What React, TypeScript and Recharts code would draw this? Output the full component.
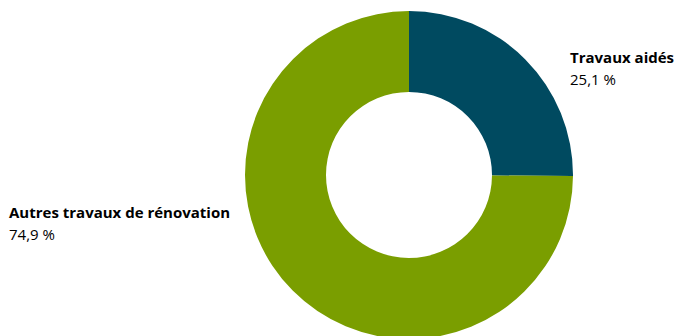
import { PieChart, Pie, Cell } from "recharts";

const categories = ["Travaux aidés", "Autres travaux de rénovation"];
const shares = [25.1, 74.9];
const colors = ["#004A60", "#7A9E00"];

const data = categories.map((name, i) => ({ name, value: shares[i] }));

const fmt = (v: number) => `${v.toFixed(1).replace(".", ",")} %`;

// labels sit beside the ring: first one to the right, second to the left
const renderLabel = (props: any) => {
  const { cx, cy, outerRadius, index, payload } = props;
  const right = index === 0;
  const x = right ? cx + outerRadius - 3 : 9;
  const y = right ? cy - 112 : cy + 43;
  return (
    <g key={index}>
      <text x={x} y={y} fill="#000" fontWeight="bold" fontSize={15} fontFamily="'Open Sans', sans-serif">
        {payload.name}
      </text>
      <text x={x} y={y + 22} fill="#000" fontSize={15} fontFamily="'Open Sans', sans-serif">
        {fmt(payload.value)}
      </text>
    </g>
  );
};

export default function App() {
  return (
    <div style={{ position: "absolute", left: 0, top: 0, width: 676, height: 336, background: "#fff" }}>
      <PieChart width={676} height={336} margin={{ top: 0, right: 0, bottom: 0, left: 0 }}>
        <Pie
          data={data}
          dataKey="value"
          cx={409}
          cy={175}
          innerRadius={83}
          outerRadius={164}
          startAngle={90}
          endAngle={-270}
          stroke="none"
          label={renderLabel}
          labelLine={false}
          isAnimationActive={false}
        >
          {data.map((d, i) => (
            <Cell key={d.name} fill={colors[i]} />
          ))}
        </Pie>
      </PieChart>
    </div>
  );
}
